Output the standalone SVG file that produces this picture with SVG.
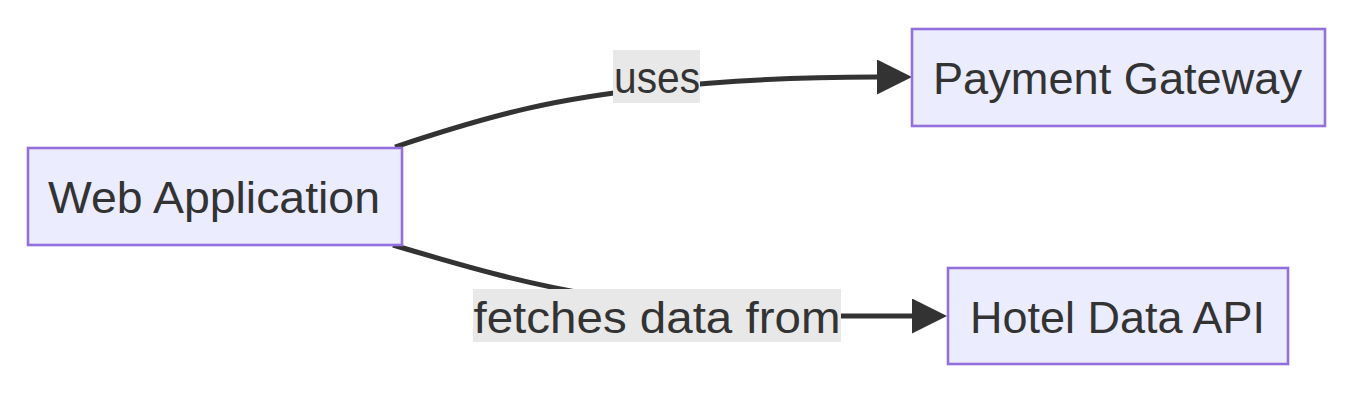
<svg xmlns="http://www.w3.org/2000/svg" width="1368" height="400" viewBox="0 0 1368 400">
<style>
.node rect{fill:#ECECFF;stroke:#9370DB;stroke-width:2.6}
text{font-family:"Liberation Sans",Arial,sans-serif;font-size:45px;fill:#333333;text-anchor:middle}
.edge{fill:none;stroke:#333333;stroke-width:5}
.lbl{fill:#E8E8E8}
</style>
<defs>
<marker id="arrow" viewBox="0 0 10 10" refX="0" refY="5" markerUnits="userSpaceOnUse" markerWidth="36" markerHeight="35" orient="auto">
<path d="M0,0 L10,5 L0,10 z" fill="#333333"/>
</marker>
</defs>
<g id="connectors">
<path class="edge" d="M395,147 C500,112 560,98 656,88 C730,80 800,77 877,77" marker-end="url(#arrow)"/>
<path class="edge" d="M393,245 C470,268 530,285 600,296 C660,308 700,316 760,316 L912,316" marker-end="url(#arrow)"/>
<g id="label-uses">
<rect class="lbl" x="613" y="50" width="87" height="53"/>
<text x="657" y="93" textLength="86" lengthAdjust="spacingAndGlyphs">uses</text>
</g>
<g id="label-fetches">
<rect class="lbl" x="473" y="289" width="368" height="53"/>
<text x="657" y="332.5" textLength="367" lengthAdjust="spacingAndGlyphs">fetches data from</text>
</g>
</g>
<g id="web-application" class="node">
<rect x="28" y="148" width="374" height="97"/>
<text x="214" y="212.5" textLength="332" lengthAdjust="spacingAndGlyphs">Web Application</text>
</g>
<g id="payment-gateway" class="node">
<rect x="912" y="29" width="413" height="97"/>
<text x="1117.5" y="94" textLength="369" lengthAdjust="spacingAndGlyphs">Payment Gateway</text>
</g>
<g id="hotel-data-api" class="node">
<rect x="948" y="268" width="340" height="96"/>
<text x="1117.5" y="333" textLength="295" lengthAdjust="spacingAndGlyphs">Hotel Data API</text>
</g>
</svg>
